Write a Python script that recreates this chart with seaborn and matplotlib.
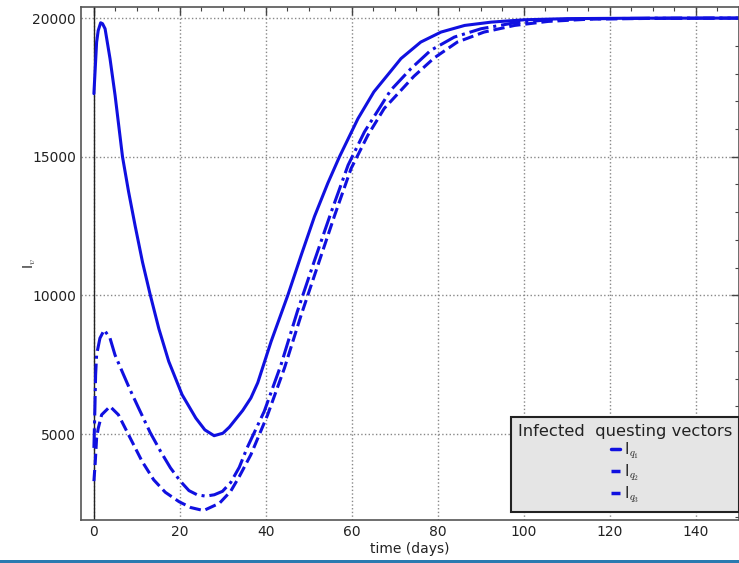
import matplotlib
matplotlib.use("Agg")
import matplotlib.pyplot as plt
from matplotlib.ticker import MultipleLocator
from matplotlib.patches import Rectangle
from matplotlib.lines import Line2D
import seaborn as sns
import pandas as pd

# ---- data ----
t_q1 = [0, 0.63, 1.0, 1.57, 2.0, 2.6, 3.75, 4.92, 6.65, 8.05, 9.6, 11.3, 13.1, 15.1, 17.4, 20.5,
        23.7, 25.8, 27.95, 30.0, 31.5, 34.6, 36.5, 38.1, 41.2, 45.1, 48.2, 51.3, 54.4, 57.1, 61.4,
        65.1, 69.1, 71.4, 76.0, 80.7, 86.2, 92.4, 100.2, 110, 125, 150]
v_q1 = [17275, 19130, 19550, 19830, 19800, 19615, 18535, 17220, 15000, 13750, 12500, 11200, 10020,
        8800, 7620, 6420, 5575, 5150, 4940, 5030, 5250, 5850, 6300, 6850, 8335, 10010, 11450, 12850,
        14050, 15000, 16375, 17340, 18100, 18540, 19135, 19495, 19735, 19855, 19940, 19980, 19995,
        20000]

t_q2 = [0, 0.23, 0.4, 0.63, 1.4, 2.4, 3.75, 4.9, 6.9, 8.4, 10.4, 13.1, 15.5, 17.8, 20.1, 22.1,
        24.0, 26.0, 28.0, 29.9, 31.8, 33.8, 35.6, 39.6, 43.5, 47.3, 51.2, 55.2, 59.1, 62.9, 66.8,
        69.0, 73.7, 78.3, 83.8, 90.0, 97.8, 105, 115, 130, 150]
v_q2 = [4500, 5900, 7140, 7860, 8455, 8755, 8455, 7855, 7135, 6600, 5935, 5050, 4375, 3780, 3300,
        2960, 2810, 2760, 2810, 2935, 3250, 3800, 4495, 5815, 7495, 9415, 11215, 13015, 14695, 15895,
        16855, 17395, 18175, 18835, 19315, 19615, 19830, 19930, 19975, 19995, 20000]

t_q3 = [0, 0.3, 0.63, 1.0, 1.8, 3.75, 5.7, 8.05, 11.2, 13.9, 16.6, 19.8, 22.5, 25.5, 29.2, 31.8,
        33.8, 36.5, 40.4, 44.3, 48.2, 52.1, 56.0, 59.8, 63.7, 67.5, 74.4, 79.1, 84.5, 90.7, 97.8,
        105.6, 115, 130, 150]
v_q3 = [3300, 3950, 4855, 5200, 5695, 5995, 5695, 4975, 4015, 3350, 2900, 2560, 2350, 2240, 2505,
        2935, 3465, 4255, 5695, 7375, 9295, 11095, 12895, 14575, 15775, 16740, 17900, 18560, 19135,
        19495, 19735, 19880, 19960, 19990, 20000]

labels = ["I$_{q_1}$", "I$_{q_2}$", "I$_{q_3}$"]
legend_title = "Infected  questing vectors"
x_label = "time (days)"
y_label = "I$_v$"

# ---- figure ----
plt.rcParams["mathtext.fontset"] = "cm"
sns.set_style("white")
plt.rcParams["font.family"] = ["DejaVu Sans"]

fig = plt.figure(figsize=(7.39, 5.63), dpi=100)
ax = fig.add_axes([81 / 739, 43 / 563, 658 / 739, 513 / 563])

blue = "#1010e0"
styles = ["-", "-.", "--"]
series = [(t_q1, v_q1), (t_q2, v_q2), (t_q3, v_q3)]
for (t, v), ls, lab in zip(series, styles, labels):
    df = pd.DataFrame({"t": t, "v": v})
    sns.lineplot(data=df, x="t", y="v", ax=ax, color=blue, linestyle=ls, linewidth=2.2,
                 label=lab, legend=False)

ax.axvline(0, color="#222222", lw=1.0, zorder=1)

ax.set_xlim(-3, 150)
ax.set_ylim(1900, 20400)
ax.xaxis.set_major_locator(MultipleLocator(20))
ax.xaxis.set_minor_locator(MultipleLocator(5))
ax.yaxis.set_major_locator(MultipleLocator(5000))
ax.yaxis.set_minor_locator(MultipleLocator(1000))
ax.tick_params(which="both", direction="in", top=True, right=True, colors="#444444",
               labelcolor="#222222", labelsize=10)
ax.tick_params(which="major", length=6, width=1)
ax.tick_params(which="minor", length=3, width=0.8)
ax.grid(True, which="major", linestyle=":", color="#888888", linewidth=1.0)
for s in ax.spines.values():
    s.set_color("#555555")
    s.set_linewidth(1.2)

ax.set_xlabel(x_label, fontsize=10, color="#222222", labelpad=2)
ax.set_ylabel(y_label, fontsize=10, color="#222222", labelpad=-4)

handles = [Line2D([], [], color=blue, linestyle=ls, linewidth=2.5) for ls in styles]
leg = ax.legend(handles, labels, title=legend_title, loc="lower left",
                bbox_to_anchor=(0.6535, 0.0156), borderaxespad=0, frameon=True, fancybox=False,
                handlelength=0.6, handletextpad=0.3, labelspacing=0.1,
                fontsize=11, title_fontsize=11.8, borderpad=0.45)
frame = leg.get_frame()
frame.set_facecolor("#e5e5e5")
frame.set_edgecolor("#222222")
frame.set_linewidth(1.5)
frame.set_alpha(1)
leg.get_title().set_color("#222222")

fig.patches.append(Rectangle((0, 0), 1, 3 / 563, transform=fig.transFigure,
                             facecolor="#2a7ab0", edgecolor="none", zorder=10))

fig.savefig("out.png", dpi=100)
